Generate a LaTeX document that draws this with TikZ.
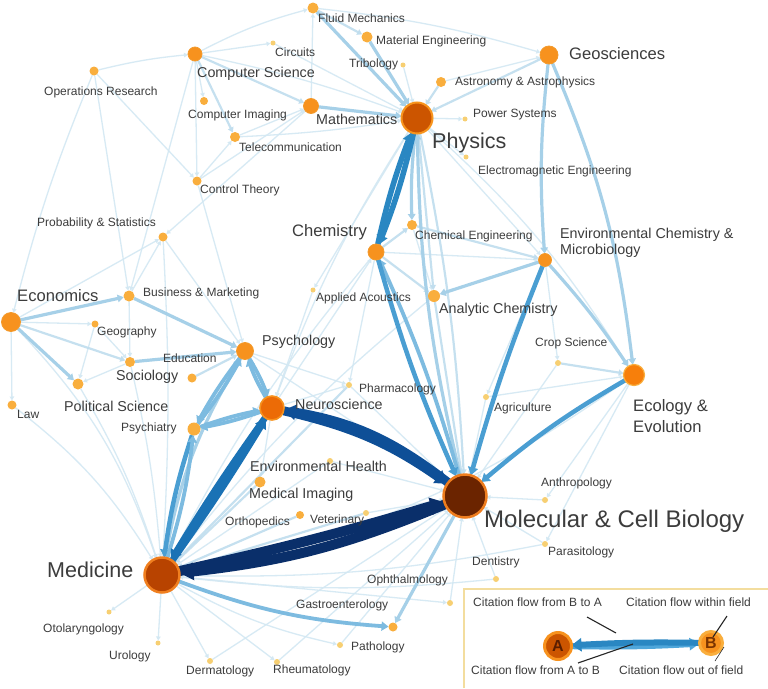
\documentclass[tikz,border=0pt]{standalone}
\usepackage{fontspec}
\setmainfont{Liberation Sans}
\usetikzlibrary{arrows.meta,backgrounds}
\definecolor{txt}{HTML}{3C3C3C}
\definecolor{l1}{HTML}{D3E8F3}
\definecolor{l2}{HTML}{BFDDEE}
\definecolor{l3}{HTML}{A6D0E8}
\definecolor{l4}{HTML}{7DBBE0}
\definecolor{l5}{HTML}{4A9ED2}
\definecolor{l6}{HTML}{2A87C2}
\definecolor{l7}{HTML}{1A72B5}
\definecolor{l8}{HTML}{0E4F97}
\definecolor{l9}{HTML}{0A2F6A}
\definecolor{nA}{HTML}{F9AE3D}
\definecolor{nT}{HTML}{F7CF72}
\definecolor{nB}{HTML}{F7921E}
\definecolor{ringc}{HTML}{F39A2C}
\definecolor{legb}{HTML}{F3DD9E}
\definecolor{cPhys}{HTML}{CC5500}
\definecolor{rPhys}{HTML}{F7941D}
\definecolor{cEco}{HTML}{F77F0B}
\definecolor{cNeuro}{HTML}{EC6B06}
\definecolor{cMcb}{HTML}{6B2400}
\definecolor{rMcb}{HTML}{EE7D1E}
\definecolor{cMed}{HTML}{B84300}
\definecolor{rMed}{HTML}{F07F1F}
\definecolor{tA}{HTML}{5A1E00}
\definecolor{tB}{HTML}{7A3300}
\definecolor{legAB}{HTML}{4FA6DA}
\tikzset{
  fn/.style={circle, inner sep=0pt, outer sep=0pt},
  tn/.style={fn, fill=nT, minimum size=#1}, tn/.default=6pt,
  sn/.style={fn, fill=nA, minimum size=#1}, sn/.default=10pt,
  mn/.style={fn, fill=nB, draw=ringc, line width=0.8pt, minimum size=#1},
  w1/.style={draw=l1, opacity=0.9, line width=1.3pt, -{Triangle[length=4pt,width=4.5pt]}},
  w2/.style={draw=l2, opacity=0.9, line width=2.2pt, -{Triangle[length=5pt,width=6pt]}},
  w3/.style={draw=l3, line width=3.2pt, -{Triangle[length=6pt,width=7.5pt]}},
  w4/.style={draw=l4, line width=3.8pt, -{Triangle[length=7pt,width=9pt]}},
  w5/.style={draw=l5, line width=4.5pt, -{Triangle[length=8pt,width=10pt]}},
  w6/.style={draw=l6, line width=5.5pt, -{Triangle[length=9pt,width=11pt]}},
  w7/.style={draw=l7, line width=6.5pt, -{Triangle[length=10pt,width=12pt]}},
  w8/.style={draw=l8, line width=9pt, -{Triangle[length=12pt,width=15pt]}},
  w9/.style={draw=l9, line width=10pt, -{Triangle[length=14pt,width=17pt]}},
  lbS/.style={font=\fontsize{12}{13}\selectfont, text=txt, anchor=west, inner sep=0pt},
  lbM/.style={font=\fontsize{14.3}{16}\selectfont, text=txt, anchor=west, inner sep=0pt},
  lbL/.style={font=\fontsize{16.6}{20.5}\selectfont, text=txt, anchor=west, inner sep=0pt, align=left},
  lbX/.style={font=\fontsize{21.5}{24}\selectfont, text=txt, anchor=west, inner sep=0pt},
  lbXX/.style={font=\fontsize{24}{27}\selectfont, text=txt, anchor=west, inner sep=0pt},
  lead/.style={draw=black!85, line width=1.1pt}
}
\begin{document}
\begin{tikzpicture}[x=1pt,y=-1pt]
\useasboundingbox (0,0) rectangle (768,688);

% ---------- field nodes ----------
\node[sn=11pt] (fluid) at (313,8) {};
\node[sn=11pt] (mat) at (367,37) {};
\node[tn=5pt] (circ) at (273,43) {};
\node[mn=14pt] (cs) at (195,54) {};
\node[tn=5pt] (trib) at (403,65) {};
\node[sn=9pt] (opr) at (94,71) {};
\node[mn=18pt] (geo) at (549,55) {};
\node[sn=10pt] (astro) at (441,82) {};
\node[sn=8pt] (cimg) at (204,101) {};
\node[mn=15pt] (math) at (311,106) {};
\node[fn, fill=cPhys, draw=rPhys, line width=2pt, minimum size=31pt] (phys) at (417,118) {};
\node[tn=5pt] (pow) at (465,119) {};
\node[sn=10pt] (tele) at (235,137) {};
\node[tn=5pt] (em) at (466,157) {};
\node[sn=9pt] (ctrl) at (197,181) {};
\node[sn=9pt] (prob) at (163,237) {};
\node[mn=16pt] (chem) at (376,252) {};
\node[sn=10pt] (cheng) at (412,225) {};
\node[mn=13pt] (envc) at (545,260) {};
\node[mn=19pt] (econ) at (11,322) {};
\node[sn=11pt] (bus) at (129,296) {};
\node[tn=5pt] (acou) at (313,290) {};
\node[sn=12pt] (anch) at (434,296) {};
\node[sn=7pt] (geog) at (95,324) {};
\node[mn=17pt] (psyc) at (245,351) {};
\node[tn=6pt] (crop) at (558,363) {};
\node[sn=9pt] (educ) at (192,378) {};
\node[sn=10pt] (soc) at (130,362) {};
\node[fn, fill=cEco, draw=nA, line width=1.2pt, minimum size=21pt] (eco) at (634,375) {};
\node[sn=11pt] (pol) at (78,384) {};
\node[tn=6pt] (pharm) at (349,385) {};
\node[sn=9pt] (law) at (12,405) {};
\node[fn, fill=cNeuro, draw=nB, line width=1.6pt, minimum size=24pt] (neuro) at (272,408) {};
\node[tn=6pt] (agri) at (486,397) {};
\node[sn=13pt] (psyt) at (194,429) {};
\node[tn=6pt] (envh) at (330,461) {};
\node[sn=11pt] (medimg) at (260,482) {};
\node[fn, fill=cMcb, draw=rMcb, line width=2.5pt, minimum size=43pt] (mcb) at (465,496) {};
\node[tn=6pt] (anth) at (545,500) {};
\node[sn=8pt] (orth) at (300,515) {};
\node[tn=6pt] (vet) at (366,513) {};
\node[tn=6pt] (para) at (545,544) {};
\node[fn, fill=cMed, draw=rMed, line width=2.5pt, minimum size=35pt] (medc) at (162,575) {};
\node[tn=6pt] (dent) at (496,579) {};
\node[tn=6pt] (opht) at (450,603) {};
\node[sn=9pt] (gast) at (393,627) {};
\node[tn=5pt] (oto) at (109,612) {};
\node[tn=5pt] (uro) at (158,643) {};
\node[tn=6pt] (derm) at (210,661) {};
\node[tn=6pt] (rheu) at (277,662) {};
\node[tn=6pt] (path) at (340,645) {};

% ---------- connectors ----------
\begin{scope}[on background layer]
\fill[white] (0,0) rectangle (768,688);
% light
\draw[w1] (opr) to[bend left=4] (cs);
\draw[w1] (opr) to (ctrl);
\draw[w1] (opr) to[bend right=4] (econ);
\draw[w1] (opr) to (bus);
\draw[w1] (cs) to[bend left=6] (fluid);
\draw[w1] (cs) to (circ);
\draw[w1] (cs) to (cimg);
\draw[w1] (cs) to (ctrl);
\draw[w1] (cs) to[bend left=4] (phys);
\draw[w1] (cs) to (bus);
\draw[w1] (circ) to (phys);
\draw[w1] (ctrl) to (tele);
\draw[w1] (ctrl) to (math);
\draw[w1] (ctrl) to (psyc);
\draw[w1] (tele) to (math);
\draw[w1] (tele) to[bend right=3] (phys);
\draw[w1] (math) to (fluid);
\draw[w1] (math) to (prob);
\draw[w1] (fluid) to[bend left=5] (geo);
\draw[w1] (trib) to (phys);
\draw[w1] (astro) to (geo);
\draw[w1] (phys) to (pow);
\draw[w1] (phys) to (em);
\draw[w1] (phys) to (envc);
\draw[w1] (phys) to (acou);
\draw[w1] (phys) to[bend right=6] (neuro);
\draw[w1] (phys) to[bend left=8] (eco);
\draw[w1] (chem) to (envc);
\draw[w1] (chem) to (pharm);
\draw[w1] (chem) to[bend right=6] (medc);
\draw[w1] (neuro) to (chem);
\draw[w1] (cheng) to (anch);
\draw[w1] (envc) to (crop);
\draw[w1] (envc) to (agri);
\draw[w1] (crop) to (mcb);
\draw[w1] (agri) to (eco);
\draw[w1] (agri) to (mcb);
\draw[w1] (eco) to[bend left=12] (medc);
\draw[w1] (eco) to (anth);
\draw[w1] (eco) to (para);
\draw[w1] (anth) to (mcb);
\draw[w1] (para) to (mcb);
\draw[w1] (dent) to (mcb);
\draw[w1] (dent) to[bend left=6] (medc);
\draw[w1] (para) to[bend left=6] (medc);
\draw[w1] (econ) to (geog);
\draw[w1] (econ) to (law);
\draw[w1] (econ) to (prob);
\draw[w1] (econ) to[bend left=12] (medc);
\draw[w1] (law) to[bend left=10] (medc);
\draw[w1] (pol) to[bend left=6] (medc);
\draw[w1] (soc) to[bend left=4] (medc);
\draw[w1] (bus) to (prob);
\draw[w1] (bus) to (soc);
\draw[w1] (geog) to (soc);
\draw[w1] (geog) to (pol);
\draw[w1] (soc) to (pol);
\draw[w1] (prob) to (psyc);
\draw[w1] (prob) to[bend left=3] (medc);
\draw[w1] (psyc) to (mcb);
\draw[w1] (psyc) to (pharm);
\draw[w1] (neuro) to (pharm);
\draw[w1] (neuro) to (medimg);
\draw[w1] (acou) to (neuro);
\draw[w1] (envh) to (mcb);
\draw[w1] (envh) to (medc);
\draw[w1] (vet) to (mcb);
\draw[w1] (pharm) to (mcb);
\draw[w1] (anch) to[bend right=6] (medc);
\draw[w1] (medc) to (opht);
\draw[w1] (opht) to (mcb);
\draw[w1] (medc) to[bend right=8] (path);
\draw[w1] (path) to (mcb);
\draw[w1] (medc) to (oto);
\draw[w1] (medc) to (uro);
\draw[w1] (medc) to (derm);
\draw[w1] (medc) to (rheu);
\draw[w1] (derm) to (mcb);
\draw[w1] (rheu) to (mcb);
% medium light
\draw[w2] (cs) to (math);
\draw[w2] (cs) to (tele);
\draw[w2] (fluid) to (mat);
\draw[w2] (astro) to (phys);
\draw[w2] (geo) to (phys);
\draw[w2] (phys) to (anch);
\draw[w2] (phys) to[bend left=4] (mcb);
\draw[w2] (chem) to (cheng);
\draw[w2] (chem) to (anch);
\draw[w2] (cheng) to (envc);
\draw[w2] (crop) to (eco);
\draw[w2] (econ) to (soc);
\draw[w2] (educ) to (psyc);
\draw[w2] (medimg) to (medc);
\draw[w2] (orth) to (medc);
\draw[w2] (vet) to (medc);
\draw[w2] (pharm) to (medc);
\draw[w2] (anch) to (mcb);
% medium
\draw[w3] (math) to (phys);
\draw[w3] (fluid) to (phys);
\draw[w3] (mat) to (phys);
\draw[w3] (phys) to[bend right=4] (cheng);
\draw[w3] (mcb) to[bend left=6] (phys);
\draw[w3] (geo) to[bend right=5] (envc);
\draw[w3] (geo) to[bend left=8] (eco);
\draw[w3] (envc) to (anch);
\draw[w3] (envc) to[bend left=4] (eco);
\draw[w3] (econ) to (bus);
\draw[w3] (econ) to (pol);
\draw[w3] (bus) to (psyc);
\draw[w3] (soc) to (psyc);
\draw[w3] (psyc) to[bend right=10] (medc);
\draw[w3] (mcb) to (gast);
\draw[w4] (medc) to[bend right=8] (gast);
\draw[w4] (mcb) to[bend right=4] (chem);
\draw[w4] (neuro) to[bend left=5] (psyc);
\draw[w4] (psyc) to[bend left=5] (neuro);
\draw[w4] (psyc) to[bend right=4] (psyt);
\draw[w4] (psyt) to[bend right=4] (psyc);
\draw[w4] (psyt) to[bend left=4] (neuro);
\draw[w4] (neuro) to[bend left=4] (psyt);
\draw[w5] (envc) to[bend right=3] (mcb);
\draw[w5] (chem) to[bend right=4] (mcb);
\draw[w5] (psyt) to[bend right=5] (medc);
\draw[w4] (medc) to[bend right=5] (psyt);
\draw[w5] (eco) to[bend right=5] (mcb);
\draw[w6] (chem) to[bend left=4] (phys);
\draw[w6] (phys) to[bend left=4] (chem);
\draw[w7] (medc) to[bend right=2] (neuro);
\draw[w7] (neuro) to[bend right=2] (medc);
\draw[w8] (neuro) to[bend left=11] (mcb);
\draw[w8] (mcb) to[bend right=14] (neuro);
\draw[w9] (medc) to[bend right=2] (mcb);
\draw[w9] (mcb) to[bend left=8] (medc);
\end{scope}

% ---------- labels ----------
\node[lbS] (fluidL) at (318,18) {Fluid Mechanics};
\node[lbS] (matL) at (376,41) {Material Engineering};
\node[lbS] (circL) at (275,52) {Circuits};
\node[lbM] (csL) at (197,74) {Computer Science};
\node[lbS] (tribL) at (349,64) {Tribology};
\node[lbS] (oprL) at (44,92) {Operations Research};
\node[lbL] (geoL) at (569,54) {Geosciences};
\node[lbS] (astroL) at (455,82) {Astronomy \& Astrophysics};
\node[lbS] (cimgL) at (188,115) {Computer Imaging};
\node[lbM] (mathL) at (316,119) {Mathematics};
\node[lbX] (physL) at (432,143) {Physics};
\node[lbS] (powL) at (473,115) {Power Systems};
\node[lbS] (teleL) at (239,147) {Telecommunication};
\node[lbS] (emL) at (478,171) {Electromagnetic Engineering};
\node[lbS] (ctrlL) at (200,190) {Control Theory};
\node[lbS] (probL) at (37,223) {Probability \& Statistics};
\node[lbL] (chemL) at (292,232) {Chemistry};
\node[lbS] (chengL) at (415,236) {Chemical Engineering};
\node[lbM, align=left, font=\fontsize{14.3}{16.5}\selectfont] (envcL) at (560,243) {Environmental Chemistry \&\\Microbiology};
\node[lbL] (econL) at (17,296) {Economics};
\node[lbS] (busL) at (143,293) {Business \& Marketing};
\node[lbS] (acouL) at (316,298) {Applied Acoustics};
\node[lbM] (anchL) at (439,310) {Analytic Chemistry};
\node[lbS] (geogL) at (97,332) {Geography};
\node[lbM] (psycL) at (262,342) {Psychology};
\node[lbS] (cropL) at (535,343) {Crop Science};
\node[lbS] (educL) at (163,358) {Education};
\node[lbM] (socL) at (116,377) {Sociology};
\node[lbL] (ecoL) at (633,416) {Ecology \&\\Evolution};
\node[lbM] (polL) at (64,406) {Political Science};
\node[lbS] (pharmL) at (359,389) {Pharmacology};
\node[lbS] (lawL) at (17,414) {Law};
\node[lbM] (neuroL) at (295,404) {Neuroscience};
\node[lbS] (agriL) at (494,408) {Agriculture};
\node[lbS] (psytL) at (121,428) {Psychiatry};
\node[lbM] (envhL) at (250,466) {Environmental Health};
\node[lbM] (medimgL) at (249,495) {Medical Imaging};
\node[lbXX] (mcbL) at (484,521) {Molecular \& Cell Biology};
\node[lbS] (anthL) at (541,483) {Anthropology};
\node[lbS] (orthL) at (225,522) {Orthopedics};
\node[lbS] (vetL) at (310,520) {Veterinary};
\node[lbS] (paraL) at (548,552) {Parasitology};
\node[lbX] (medcL) at (47,570) {Medicine};
\node[lbS] (dentL) at (472,562) {Dentistry};
\node[lbS] (ophtL) at (367,580) {Ophthalmology};
\node[lbS] (gastL) at (296,605) {Gastroenterology};
\node[lbS] (otoL) at (43,629) {Otolaryngology};
\node[lbS] (uroL) at (109,656) {Urology};
\node[lbS] (pathL) at (351,647) {Pathology};
\node[lbS] (dermL) at (186,671) {Dermatology};
\node[lbS] (rheuL) at (273,670) {Rheumatology};

% ---------- legend ----------
\draw[legb, line width=1.5pt] (463.75,688) -- (463.75,588.75) -- (768,588.75);
\node[fn, fill=cPhys, draw=nB, line width=3pt, minimum size=27pt,
      font=\fontsize{16}{16}\selectfont\bfseries, text=tA] (lA) at (558,646) {A};
\node[fn, fill=nB, draw=nA, line width=3pt, minimum size=23pt,
      font=\fontsize{16}{16}\selectfont\bfseries, text=tB] (lB) at (711,643) {B};
\begin{scope}[on background layer]
\draw[draw=legAB, line width=6pt, -{Triangle[length=10pt,width=12pt]}] (lA) to[bend right=2] (lB);
\draw[draw=l6, line width=6pt, -{Triangle[length=10pt,width=13pt]}] (lB) to[bend right=2] (lA);
\end{scope}
\node[lbS] (legBA) at (473,602) {Citation flow from B to A};
\node[lbS] (legIn) at (626,602) {Citation flow within field};
\node[lbS] (legABt) at (471,670) {Citation flow from A to B};
\node[lbS] (legOut) at (619,670) {Citation flow out of field};
\coordinate (k1a) at (587,617); \coordinate (k1b) at (616,633);
\coordinate (k2a) at (578,663); \coordinate (k2b) at (633,644);
\coordinate (k3a) at (727,616); \coordinate (k3b) at (713,637);
\coordinate (k4a) at (724,647); \coordinate (k4b) at (715,661);
\draw[lead] (k1a) -- (k1b);
\draw[lead] (k2a) -- (k2b);
\draw[lead] (k3a) -- (k3b);
\draw[lead, line width=0.6pt] (k4a) -- (k4b);
\end{tikzpicture}
\end{document}
